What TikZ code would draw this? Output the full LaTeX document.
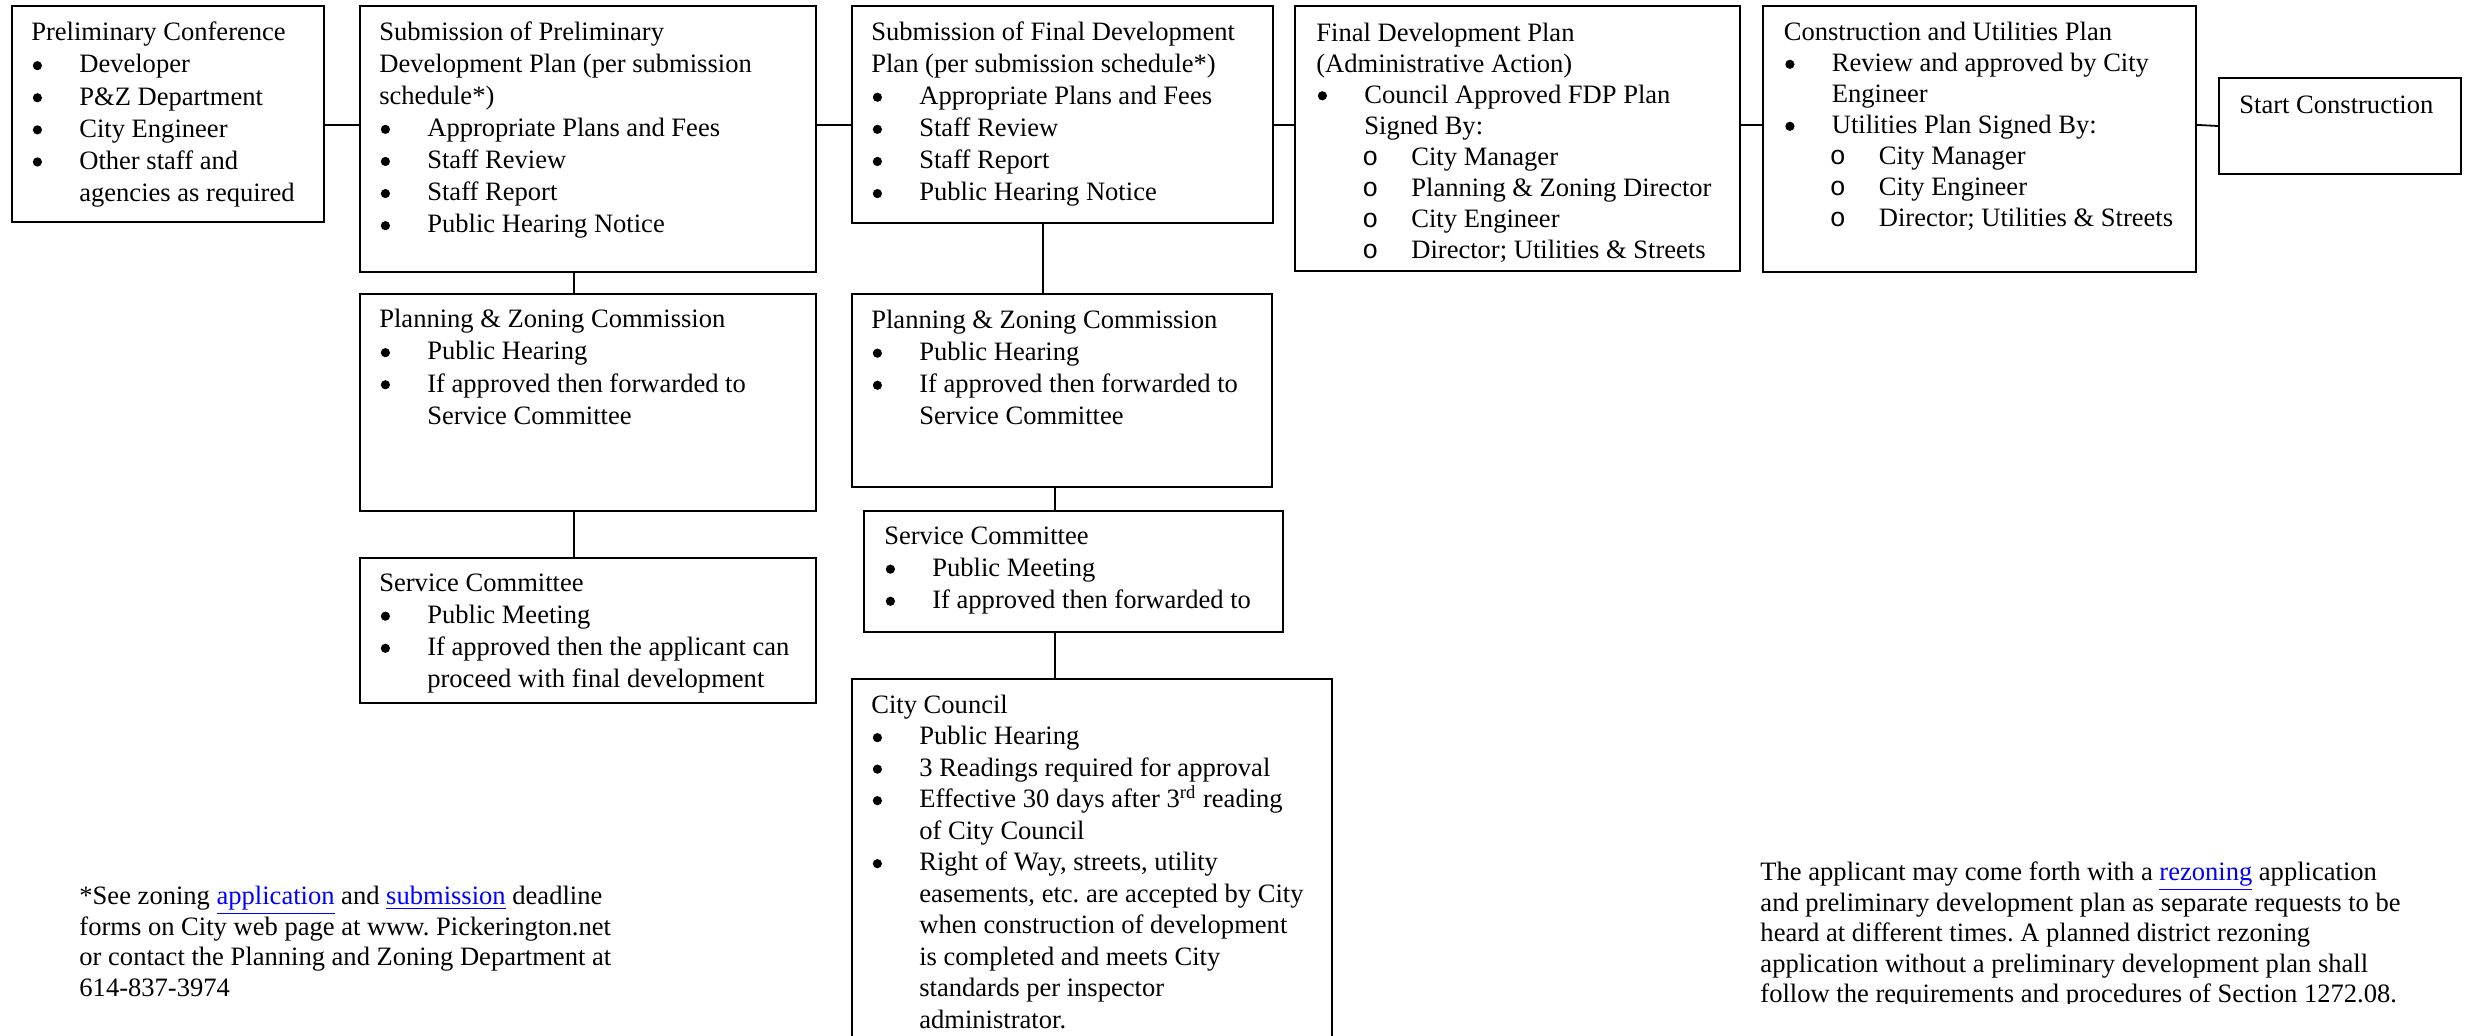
\documentclass[tikz,border=0pt]{standalone}
\usepackage{fontspec}
\setmainfont{Liberation Serif}
\setmonofont{Liberation Mono}
\usetikzlibrary{fit}
\frenchspacing
\newdimen\pxu \pxu=0.45pt
\definecolor{linkblue}{RGB}{0,0,255}
\newcommand\bxfont{\fontsize{11.95pt}{14.445pt}\selectfont}
\newcommand\bxfontb{\fontsize{11.95pt}{13.95pt}\selectfont}
\newcommand\bxfontc{\fontsize{11.95pt}{14.175pt}\selectfont}
\newcommand\ntfont{\fontsize{11.95pt}{13.7pt}\selectfont}
% bullet lines: the bullet dots are drawn by TikZ (see \bulletsat)
\newcommand\bul[1]{\hspace*{48\pxu}#1}
\newcommand\cont[1]{\hspace*{48\pxu}#1}
\newcommand\subb[1]{\makebox[95\pxu][l]{\hspace{46\pxu}\texttt{o}}#1}
\newcommand\lnk[1]{\textcolor{linkblue}{\underline{#1}}}
% #1 text node, #2 line pitch (px), #3 line indices carrying a bullet
\newcommand\bulletsat[3]{\foreach \k in {#3}
  \fill ([shift={(6.5,{0.7*#2+\k*#2-6.8})}]#1.north west) circle (2.07pt);}
\tikzset{
  box/.style={draw, line width=1pt, inner sep=0pt},
  txt/.style={anchor=north west, inner sep=0pt, align=left, font=\bxfont},
  txtb/.style={txt, font=\bxfontb},
  txtc/.style={txt, font=\bxfontc},
  note/.style={anchor=north west, inner sep=0pt, align=left, font=\ntfont},
  conn/.style={line width=0.8pt}
}
\begin{document}
\begin{tikzpicture}[x=0.45pt,y=-0.45pt]
\clip (0,0) rectangle (2473,1035);
% boxes
\node[box, fit={(12,6) (324,222)}] (b1) {};
\node[box, fit={(360,6) (816,272)}] (b2) {};
\node[box, fit={(852,6) (1273,223)}] (b3) {};
\node[box, fit={(1295,6) (1740,271)}] (b4) {};
\node[box, fit={(1763,6) (2196,272)}] (b5) {};
\node[box, fit={(2219,78) (2461,174)}] (b6) {};
\node[box, fit={(360,294) (816,511)}] (pz1) {};
\node[box, fit={(360,558) (816,703)}] (sc1) {};
\node[box, fit={(852,294) (1272,487)}] (pz2) {};
\node[box, fit={(864,511) (1283,632)}] (sc2) {};
\node[box, fit={(852,679) (1332,1050)}] (cc) {};
% texts
\node[txt] (b1t) at ([shift={(20,13)}]b1.north west) {\strut Preliminary Conference\\
\bul{Developer}\\
\bul{P\&Z Department}\\
\bul{City Engineer}\\
\bul{Other staff and}\\
\cont{agencies as required}};
\bulletsat{b1t}{32.1}{1,2,3,4}
\node[txt] (b2t) at ([shift={(20,12.5)}]b2.north west) {\strut Submission of Preliminary\\
Development Plan (per submission\\
schedule*)\\
\bul{Appropriate Plans and Fees}\\
\bul{Staff Review}\\
\bul{Staff Report}\\
\bul{Public Hearing Notice}};
\bulletsat{b2t}{32.1}{3,4,5,6}
\node[txt] (b3t) at ([shift={(20,12.5)}]b3.north west) {\strut Submission of Final Development\\
Plan (per submission schedule*)\\
\bul{Appropriate Plans and Fees}\\
\bul{Staff Review}\\
\bul{Staff Report}\\
\bul{Public Hearing Notice}};
\bulletsat{b3t}{32.1}{2,3,4,5}
\node[txtb] (b4t) at ([shift={(22,14)}]b4.north west) {\strut Final Development Plan\\
(Administrative Action)\\
\bul{Council Approved FDP Plan}\\
\cont{Signed By:}\\
\subb{City Manager}\\
\subb{Planning \& Zoning Director}\\
\subb{City Engineer}\\
\subb{Director; Utilities \& Streets}};
\bulletsat{b4t}{31}{2}
\node[txtb] (b5t) at ([shift={(21.5,13.5)}]b5.north west) {\strut Construction and Utilities Plan\\
\bul{Review and approved by City}\\
\cont{Engineer}\\
\bul{Utilities Plan Signed By:}\\
\subb{City Manager}\\
\subb{City Engineer}\\
\subb{Director; Utilities \& Streets}};
\bulletsat{b5t}{31}{1,3}
\node[txt] (b6t) at ([shift={(21,13.5)}]b6.north west) {\strut Start Construction};
\node[txt] (pz1t) at ([shift={(20,12)}]pz1.north west) {\strut Planning \& Zoning Commission\\
\bul{Public Hearing}\\
\bul{If approved then forwarded to}\\
\cont{Service Committee}};
\bulletsat{pz1t}{32.1}{1,2}
\node[txt] (sc1t) at ([shift={(20,11.5)}]sc1.north west) {\strut Service Committee\\
\bul{Public Meeting}\\
\bul{If approved then the applicant can}\\
\cont{proceed with final development}};
\bulletsat{sc1t}{32.1}{1,2}
\node[txt] (pz2t) at ([shift={(20,12.5)}]pz2.north west) {\strut Planning \& Zoning Commission\\
\bul{Public Hearing}\\
\bul{If approved then forwarded to}\\
\cont{Service Committee}};
\bulletsat{pz2t}{32.1}{1,2}
\node[txt] (sc2t) at ([shift={(21,11.5)}]sc2.north west) {\strut Service Committee\\
\bul{Public Meeting}\\
\bul{If approved then forwarded to}};
\bulletsat{sc2t}{32.1}{1,2}
\node[txtc] (cct) at ([shift={(20,13)}]cc.north west) {\strut City Council\\
\bul{Public Hearing}\\
\bul{3 Readings required for approval}\\
\bul{Effective 30 days after 3\textsuperscript{rd} reading}\\
\cont{of City Council}\\
\bul{Right of Way, streets, utility}\\
\cont{easements, etc. are accepted by City}\\
\cont{when construction of development}\\
\cont{is completed and meets City}\\
\cont{standards per inspector}\\
\cont{administrator.}};
\bulletsat{cct}{31.5}{1,2,3,5}
% connectors
\draw[conn] ([shift={(0,120)}]b1.north east) -- ([shift={(0,120)}]b2.north west);
\draw[conn] ([shift={(0,120)}]b2.north east) -- ([shift={(0,120)}]b3.north west);
\draw[conn] ([shift={(0,120)}]b3.north east) -- ([shift={(0,120)}]b4.north west);
\draw[conn] ([shift={(0,120)}]b4.north east) -- ([shift={(0,120)}]b5.north west);
\draw[conn] ([shift={(0,120)}]b5.north east) -- (b6.west);
\draw[conn] ([shift={(215,0)}]b2.south west) -- ([shift={(215,0)}]pz1.north west);
\draw[conn] ([shift={(215,0)}]pz1.south west) -- ([shift={(215,0)}]sc1.north west);
\draw[conn] ([shift={(192,0)}]b3.south west) -- ([shift={(192,0)}]pz2.north west);
\draw[conn] ([shift={(204,0)}]pz2.south west) -- ([shift={(192,0)}]sc2.north west);
\draw[conn] ([shift={(192,0)}]sc2.south west) -- ([shift={(204,0)}]cc.north west);
% notes
\node[note] (fn) at (79,883) {\strut *See zoning \lnk{application} and \lnk{submission} deadline\\
forms on City web page at www. Pickerington.net\\
or contact the Planning and Zoning Department at\\
614-837-3974};
\begin{scope}
\clip (1700,800) rectangle (2473,1003);
\node[note] (rz) at (1760,859) {\strut The applicant may come forth with a \lnk{rezoning} application\\
and preliminary development plan as separate requests to be\\
heard at different times. A planned district rezoning\\
application without a preliminary development plan shall\\
follow the requirements and procedures of Section 1272.08.};
\end{scope}
\end{tikzpicture}
\end{document}
